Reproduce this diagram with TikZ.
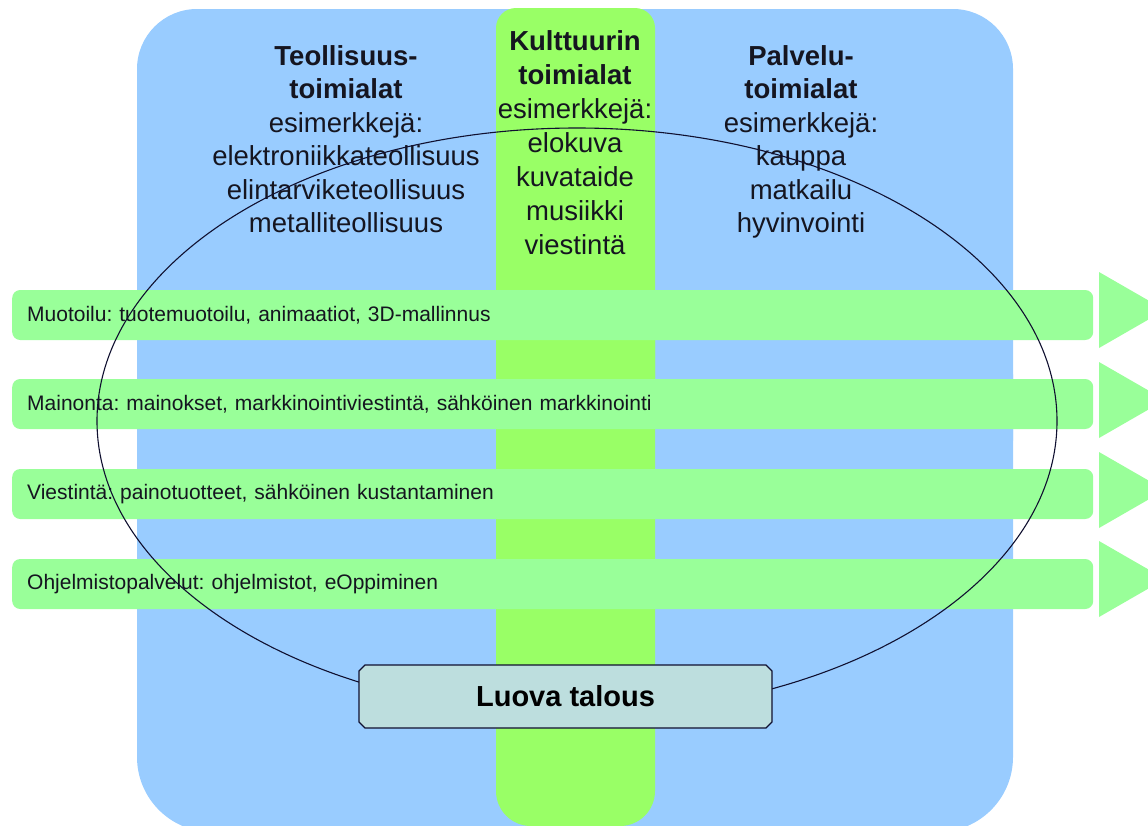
\documentclass[tikz,border=0pt]{standalone}
\usepackage{fontspec}
\setmainfont{Liberation Sans}
\usetikzlibrary{shapes.misc}
\frenchspacing
\definecolor{bgblue}{HTML}{99CCFF}
\definecolor{colgreen}{HTML}{99FF66}
\definecolor{bargreen}{HTML}{99FF99}
\definecolor{boxfill}{HTML}{BDDEDE}
\definecolor{linecol}{HTML}{101030}
\definecolor{txt}{HTML}{151520}
\tikzset{
  coltext/.style={anchor=north, align=center, inner sep=0pt, text=txt,
    font=\fontsize{27.5}{33.5}\selectfont},
  bartext/.style={fill=bargreen, rounded corners=8pt, anchor=west,
    minimum width=1081pt, minimum height=50pt, text width=1051pt,
    inner xsep=15pt, inner ysep=0pt, align=left, text=txt,
    font=\fontsize{21}{25}\selectfont},
  arrowhead/.style={fill=bargreen},
  talous/.style={chamfered rectangle, chamfered rectangle xsep=3pt,
    chamfered rectangle ysep=3pt, draw=linecol, line width=1.3pt,
    fill=boxfill, minimum width=413pt, minimum height=63pt, inner sep=0pt,
    text=black, font=\bfseries\fontsize{29}{32}\selectfont}
}
\begin{document}
\begin{tikzpicture}[x=1pt, y=-1pt]
\useasboundingbox (0,0) rectangle (1148,825);
% blue background (top corners r=60, bottom corners r=75)
\fill[bgblue, rounded corners=60pt] (137,9) rectangle (1013,500);
\fill[bgblue, rounded corners=75pt] (137,300) rectangle (1013,832);
% culture column
\fill[colgreen, rounded corners=20pt] (496,8) rectangle (655,400);
\fill[colgreen, rounded corners=35pt] (496,300) rectangle (655,826);
% bars
\node[bartext] (b1) at (12,315) {Muotoilu: tuotemuotoilu, animaatiot, 3D-mallinnus};
\node[bartext] (b2) at (12,404) {Mainonta: mainokset, markkinointiviestintä, sähköinen markkinointi};
\node[bartext] (b3) at (12,494) {Viestintä: painotuotteet, sähköinen kustantaminen};
\node[bartext] (b4) at (12,584) {Ohjelmistopalvelut: ohjelmistot, eOppiminen};
% arrow heads
\begin{scope}
\clip (0,0) rectangle (1148,825);
\fill[arrowhead] (1099,272) -- (1165,310) -- (1099,348) -- cycle;
\fill[arrowhead] (1099,362) -- (1165,400) -- (1099,438) -- cycle;
\fill[arrowhead] (1099,452) -- (1165,490) -- (1099,528) -- cycle;
\fill[arrowhead] (1099,541) -- (1165,579) -- (1099,617) -- cycle;
\end{scope}
% column texts
\node[coltext] (teo) at (346,45) {\textbf{Teollisuus-}\\\textbf{toimialat}\\esimerkkejä:\\elektroniikkateollisuus\\elintarviketeollisuus\\metalliteollisuus};
\node[coltext, font=\fontsize{27.5}{34}\selectfont] (kul) at (575,30) {\textbf{Kulttuurin}\\\textbf{toimialat}\\esimerkkejä:\\elokuva\\kuvataide\\musiikki\\viestintä};
\node[coltext] (pal) at (801,45) {\textbf{Palvelu-}\\\textbf{toimialat}\\esimerkkejä:\\kauppa\\matkailu\\hyvinvointi};
% ellipse
\draw[linecol, line width=1.1pt] (577,421) ellipse [x radius=480, y radius=293];
% box
\node[talous] (luova) at (565.5,696.5) {Luova talous};
\end{tikzpicture}
\end{document}
